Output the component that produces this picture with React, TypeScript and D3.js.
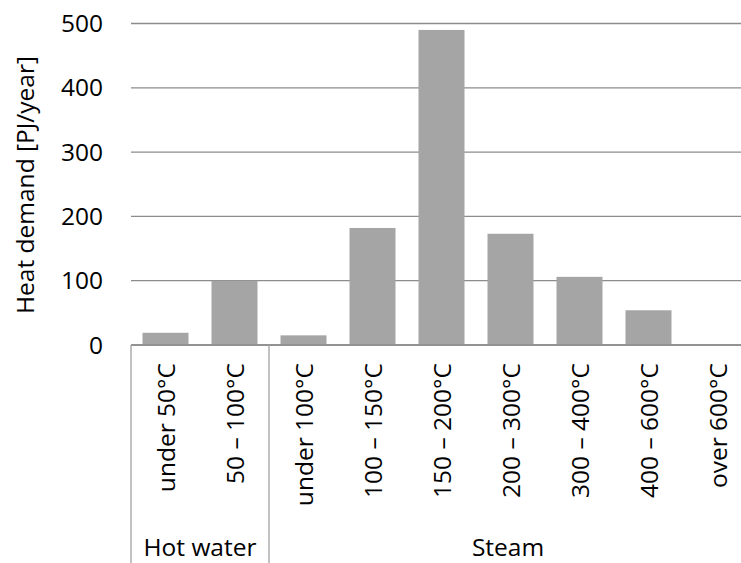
import React from "react";
import * as d3 from "d3";

const categories = [
  "under 50°C",
  "50 – 100°C",
  "under 100°C",
  "100 – 150°C",
  "150 – 200°C",
  "200 – 300°C",
  "300 – 400°C",
  "400 – 600°C",
  "over 600°C",
];
const values = [19, 100, 15, 182, 490, 173, 106, 54, 0];
const groups = [
  { name: "Hot water", start: 0, count: 2 },
  { name: "Steam", start: 2, count: 7 },
];
const yTicks = [0, 100, 200, 300, 400, 500];

const W = 741;
const H = 563;
const FONT = "'Open Sans', Lato, sans-serif";
const FS = 24.5;

export default function App() {
  const x = d3
    .scaleBand<number>()
    .domain(d3.range(categories.length))
    .range([131, 752])
    .paddingInner(1 / 3)
    .paddingOuter(1 / 6);
  const y = d3.scaleLinear().domain([0, 500]).range([345, 23.5]);
  const step = x.step();
  const x0 = 131;

  return (
    <div style={{ position: "fixed", left: 0, top: 0 }}>
      <svg width={W} height={H} style={{ display: "block", background: "#fff" }}>
        {yTicks.map((t) => (
          <g key={t}>
            <line x1={x0} x2={752} y1={y(t)} y2={y(t)} stroke="#8c8c8c" strokeWidth={1.3} />
            <text
              x={103}
              y={y(t)}
              dy="0.35em"
              textAnchor="end"
              fontFamily={FONT}
              fontSize={FS}
              fill="#000"
            >
              {t}
            </text>
          </g>
        ))}
        <text
          transform={`translate(34,185) rotate(-90)`}
          textAnchor="middle"
          fontFamily={FONT}
          fontSize={FS}
          fill="#000"
        >
          Heat demand [PJ/year]
        </text>
        {values.map((v, i) => (
          <rect
            key={i}
            x={x(i)}
            y={y(v)}
            width={x.bandwidth()}
            height={y(0) - y(v)}
            fill="#a5a5a5"
          />
        ))}
        <line x1={x0} x2={752} y1={y(0)} y2={y(0)} stroke="#8c8c8c" strokeWidth={1.3} />
        {groups.map((g) => (
          <line
            key={g.name}
            x1={x0 + g.start * step}
            x2={x0 + g.start * step}
            y1={y(0)}
            y2={H}
            stroke="#a0a0a0"
            strokeWidth={1.3}
          />
        ))}
        {categories.map((c, i) => (
          <text
            key={c}
            transform={`translate(${(x(i) as number) + x.bandwidth() / 2 + 9},363) rotate(-90)`}
            textAnchor="end"
            fontFamily={FONT}
            fontSize={FS}
            fill="#000"
          >
            {c}
          </text>
        ))}
        {groups.map((g) => {
          const cx = x0 + (g.start + g.count / 2) * step;
          return (
            <text
              key={g.name}
              x={g.name === "Steam" ? 508 : cx}
              y={556}
              textAnchor="middle"
              fontFamily={FONT}
              fontSize={FS}
              fill="#000"
            >
              {g.name}
            </text>
          );
        })}
      </svg>
    </div>
  );
}
